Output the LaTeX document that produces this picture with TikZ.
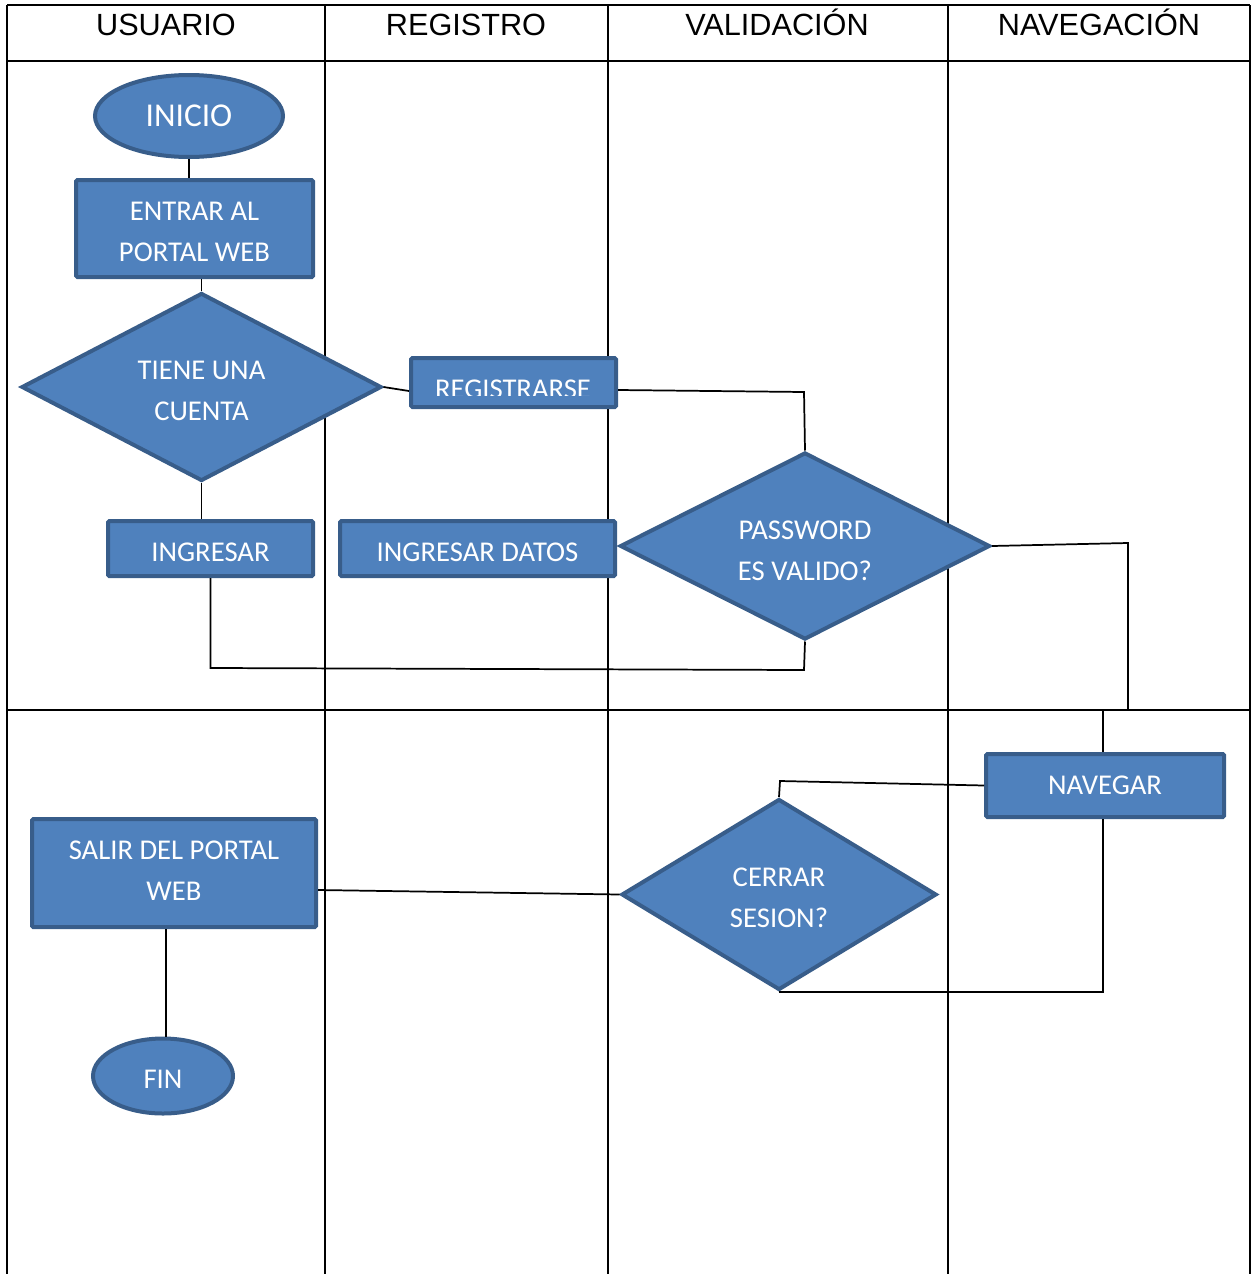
\documentclass[tikz,border=0pt]{standalone}
\usepackage{fontspec}
\setmainfont{Carlito}
\newfontfamily\hdrfont{Liberation Sans}
\usetikzlibrary{shapes.geometric}
\definecolor{shapefill}{HTML}{4F81BD}
\definecolor{shapeedge}{HTML}{385D8A}
% lower a line of text inside its node without changing the node size
\newcommand{\lowertxt}[2]{\raisebox{-#1}[\height][\depth]{#2}}
\begin{document}
\begin{tikzpicture}[x=0.75pt,y=-0.75pt,
  gridline/.style={line width=1.5pt,black},
  conn/.style={line width=1.3pt,black},
  hdr/.style={font=\hdrfont\fontsize{23}{27}\selectfont,inner sep=0,anchor=base},
  shapebase/.style={draw=shapeedge,fill=shapefill,line width=3pt,text=white,
    align=center,inner sep=0,font=\fontsize{21.5}{30.75}\selectfont},
  procbox/.style={shapebase,rectangle,rounded corners=1pt},
  terminal/.style={shapebase,ellipse},
  decision/.style={shapebase,diamond,aspect=2}]
\useasboundingbox (0,0) rectangle (1251,1274);

% swimlane table
\draw[gridline] (7,5) -- (1250,5);
\draw[gridline] (7,61) -- (1250,61);
\draw[gridline] (7,710) -- (1250,710);
\foreach \xx in {7,325,608,948,1250}
  \draw[gridline] (\xx,5) -- (\xx,1274);
\node[hdr] (hUsuario) at (166,35) {USUARIO};
\node[hdr] (hRegistro) at (466,35) {REGISTRO};
\node[hdr] (hValid) at (777,35) {VALIDACIÓN};
\node[hdr] (hNaveg) at (1099,35) {NAVEGACIÓN};

% flowchart shapes
\node[terminal,minimum width=141pt,minimum height=61.5pt,font=\fontsize{25}{30}\selectfont] (inicio) at (189,116) {INICIO};
\node[procbox,minimum width=177.75pt,minimum height=72.75pt] (entrar) at (194.5,228.5)
  {\lowertxt{2.25pt}{ENTRAR AL}\\\lowertxt{2.25pt}{PORTAL WEB}};
\node[decision,minimum width=270pt,minimum height=141pt] (tiene) at (201.5,387)
  {\lowertxt{3pt}{TIENE UNA}\\\lowertxt{3pt}{CUENTA}};
\node[procbox,minimum width=153.75pt,minimum height=36.75pt] (regis) at (513.5,382.5) {};
\begin{scope}
  \clip (411,360) rectangle (616,395);
  \node[anchor=base,text=white,inner sep=0,font=\fontsize{21.5}{30.75}\selectfont] (regisText) at (513,398) {REGISTRARSE};
\end{scope}
\node[procbox,minimum width=153.75pt,minimum height=41.25pt] (ingresar) at (210.5,548.5) {\lowertxt{3pt}{INGRESAR}};
\node[procbox,minimum width=206.25pt,minimum height=41.25pt] (datos) at (477.5,548.5) {\lowertxt{3pt}{INGRESAR DATOS}};
\node[decision,minimum width=277.5pt,minimum height=140.25pt] (pass) at (805,546)
  {\lowertxt{3.75pt}{PASSWORD}\\\lowertxt{3.75pt}{ES VALIDO?}};
\node[procbox,minimum width=178.5pt,minimum height=47.25pt] (nav) at (1105,785.5) {NAVEGAR};
\node[decision,minimum width=236.25pt,minimum height=143.25pt] (cerrar) at (779,894.5)
  {\lowertxt{2.25pt}{CERRAR}\\\lowertxt{2.25pt}{SESION?}};
\node[procbox,minimum width=213pt,minimum height=81pt] (salir) at (174,873)
  {\lowertxt{-1.5pt}{SALIR DEL PORTAL}\\\lowertxt{-1.5pt}{WEB}};
\node[terminal,minimum width=105pt,minimum height=56.25pt] (fin) at (163,1076) {\lowertxt{2.25pt}{FIN}};

% connectors
\coordinate (j1) at (1128,710);
\coordinate (j2) at (1103,710);
\draw[conn] (inicio.south) -- (inicio.south |- entrar.north);
\draw[conn] (entrar.south -| tiene.north) -- (tiene.north);
\draw[conn] (tiene.east) -- (regis.west |- 0,391);
\draw[conn] (regis.east |- 0,390) -- (804,392) -- (pass.north);
\draw[conn] (tiene.south) -- (tiene.south |- ingresar.north);
\draw[conn] (ingresar.south) -- ++(0,90) -- (804,670) -- (pass.south);
\draw[conn] (pass.east) -- (1128,543) -- (j1);
\draw[conn] (j2) -- (j2 |- nav.north);
\draw[conn] (nav.west) -- (780,781) -- (cerrar.north);
\draw[conn] (nav.south -| j2) |- (cerrar.south);
\draw[conn] (cerrar.west) -- (salir.east |- 0,890);
\draw[conn] (salir.south -| 166,0) -- (fin.north -| 166,0);
\end{tikzpicture}
\end{document}
